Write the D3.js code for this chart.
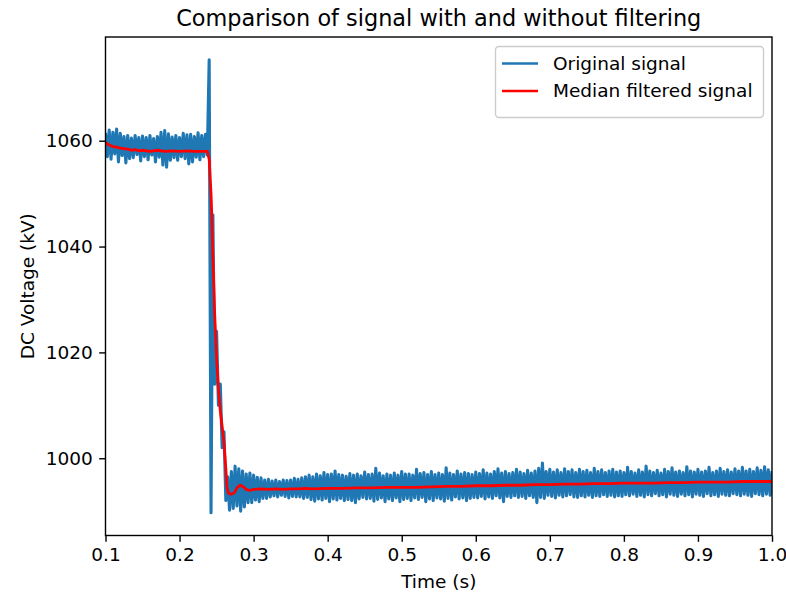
<!DOCTYPE html>
<html>
<head>
<meta charset="utf-8">
<script src="https://cdnjs.cloudflare.com/ajax/libs/d3/7.8.5/d3.min.js"></script>
<style>
    body { margin: 0; background: white; }
    text { font-family: "DejaVu Sans", sans-serif; }
</style>
</head>
<body>
<div class="chart"></div>
<script>
// original signal, sampled every 2.5 ms from t = 0.1 s
var sampleStart = 0.1;
var sampleStep = 0.0025;
var originalSignal = [
    1061.5, 1057.0, 1062.0, 1056.5, 1061.6, 1057.5, 1062.2, 1056.0, 1061.4, 1057.2,
    1060.8, 1055.8, 1061.0, 1056.6, 1060.5, 1056.8, 1061.0, 1057.4, 1060.6, 1056.2,
    1060.9, 1057.0, 1060.6, 1056.4, 1061.0, 1057.3, 1060.4, 1056.0, 1060.8, 1056.9,
    1061.6, 1055.4, 1061.9, 1055.0, 1061.3, 1056.3, 1060.7, 1056.8, 1061.0, 1056.3,
    1060.6, 1057.0, 1061.4, 1056.6, 1061.1, 1055.6, 1061.2, 1056.0, 1060.8, 1056.9,
    1061.5, 1056.4, 1061.0, 1057.0, 1061.2, 1057.3, 1075.3, 989.7, 1046.0, 1014.0,
    1024.0, 1010.0, 1014.0, 1002.0, 1005.0, 992.0, 996.5, 990.2, 997.5, 990.5,
    998.5, 991.0, 998.0, 990.0, 997.6, 990.8, 997.0, 991.6, 997.2, 991.6,
    996.8, 992.1, 996.4, 991.8, 996.3, 992.4, 995.9, 992.4, 996.0, 992.7,
    995.7, 992.9, 995.9, 992.7, 995.6, 993.0, 995.9, 992.8, 995.8, 992.5,
    995.9, 992.8, 996.2, 992.7, 996.0, 992.7, 996.3, 992.4, 996.5, 992.6,
    996.8, 992.2, 996.5, 991.9, 997.0, 992.3, 996.7, 992.1, 997.3, 992.4,
    996.9, 991.8, 997.0, 992.3, 997.6, 992.1, 996.9, 992.4, 996.8, 992.0,
    996.6, 992.2, 997.1, 992.0, 996.8, 991.6, 997.0, 992.3, 996.7, 992.6,
    997.4, 992.3, 996.9, 992.4, 997.0, 991.9, 998.1, 992.2, 997.2, 992.5,
    996.7, 991.8, 997.0, 992.3, 996.8, 992.0, 997.2, 992.5, 996.8, 991.8,
    997.5, 992.2, 997.0, 992.4, 997.0, 992.0, 996.8, 992.5, 997.9, 992.2,
    997.1, 992.6, 997.3, 991.8, 996.9, 992.3, 997.5, 992.0, 996.9, 992.5,
    997.2, 992.3, 996.9, 991.9, 998.2, 992.4, 997.2, 992.1, 996.9, 992.7,
    997.6, 992.3, 997.0, 992.5, 997.3, 992.0, 997.1, 992.4, 996.9, 992.6,
    997.4, 992.5, 997.1, 992.8, 997.8, 992.3, 997.2, 992.7, 997.0, 992.4,
    997.5, 992.9, 998.0, 992.5, 997.2, 991.8, 997.5, 992.8, 997.1, 992.6,
    997.3, 992.9, 997.9, 992.6, 997.4, 992.8, 997.1, 992.4, 997.7, 992.9,
    997.2, 992.6, 997.6, 991.6, 998.1, 992.6, 999.1, 992.4, 997.5, 993.0,
    997.9, 992.8, 997.4, 992.5, 997.8, 993.0, 997.3, 992.7, 998.0, 992.9,
    997.5, 993.1, 997.8, 992.7, 997.3, 992.6, 997.9, 992.9, 997.5, 992.7,
    997.7, 993.0, 997.3, 992.6, 998.1, 992.9, 997.5, 992.8, 997.8, 993.1,
    997.3, 992.8, 997.6, 993.0, 997.9, 992.7, 997.4, 992.9, 997.6, 992.8,
    997.3, 993.1, 998.3, 992.9, 997.5, 993.2, 997.2, 992.8, 997.8, 993.0,
    997.4, 992.7, 998.5, 993.1, 997.6, 992.9, 997.3, 993.3, 997.7, 992.9,
    997.2, 993.1, 997.9, 992.7, 997.5, 993.2, 998.2, 993.0, 997.4, 992.8,
    997.6, 993.2, 997.3, 992.9, 998.4, 993.1, 997.6, 992.7, 997.4, 993.2,
    997.9, 993.0, 997.4, 992.8, 997.6, 993.3, 998.3, 992.9, 997.3, 993.1,
    997.6, 992.8, 998.1, 993.2, 997.5, 993.0, 997.8, 992.9, 997.4, 993.3,
    998.0, 993.1, 997.6, 992.9, 998.3, 993.2, 997.6, 993.0, 997.9, 992.8,
    997.5, 993.3, 998.2, 993.1, 997.7, 992.9, 998.4, 993.2, 997.8, 993.0,
    997.6
];

// median filtered signal
var filteredTime = [
    0.100, 0.105, 0.110, 0.115, 0.120, 0.125, 0.130, 0.135, 0.140, 0.145,
    0.150, 0.160, 0.170, 0.180, 0.190, 0.200, 0.210, 0.220, 0.230, 0.2375,
    0.240, 0.2425, 0.2435, 0.245, 0.2475, 0.250, 0.2525, 0.255, 0.2575, 0.260,
    0.2625, 0.264, 0.266, 0.270, 0.274, 0.278, 0.282, 0.286, 0.290, 0.295,
    0.300, 0.310, 0.320, 0.330, 0.340, 0.350, 0.360, 0.370, 0.380, 0.400,
    0.420, 0.440, 0.460, 0.480, 0.500, 0.520, 0.540, 0.560, 0.580, 0.600,
    0.620, 0.640, 0.660, 0.680, 0.700, 0.720, 0.740, 0.760, 0.780, 0.800,
    0.820, 0.840, 0.860, 0.880, 0.900, 0.920, 0.940, 0.960, 0.980, 1.000
];
var filteredSignal = [
    1059.6, 1059.2, 1058.9, 1058.8, 1058.6, 1058.5, 1058.4, 1058.2, 1058.3, 1058.1,
    1058.2, 1058.0, 1058.2, 1058.0, 1058.1, 1058.0, 1058.1, 1058.0, 1058.0, 1058.0,
    1056.5, 1050.0, 1046.0, 1038.0, 1027.0, 1019.0, 1013.0, 1009.0, 1006.0, 1003.0,
    998.0, 994.5, 993.4, 993.2, 993.5, 994.5, 994.9, 994.6, 994.1, 993.9,
    994.1, 994.2, 994.1, 994.2, 994.1, 994.2, 994.2, 994.3, 994.2, 994.3,
    994.3, 994.4, 994.4, 994.5, 994.5, 994.5, 994.6, 994.7, 994.7, 994.8,
    994.8, 994.9, 994.9, 995.0, 995.0, 995.1, 995.1, 995.2, 995.2, 995.3,
    995.3, 995.3, 995.4, 995.4, 995.5, 995.5, 995.5, 995.6, 995.6, 995.6
];

var xTicks = [0.1, 0.2, 0.3, 0.4, 0.5, 0.6, 0.7, 0.8, 0.9, 1.0];
var yTicks = [1000, 1020, 1040, 1060];
var legendLabels = ["Original signal", "Median filtered signal"];
var legendColors = ["#1f77b4", "red"];

function drawChart(){
    var w = 786;
    var h = 596;
    var plotLeft = 105.5, plotRight = 772, plotTop = 37, plotBottom = 535.5;

    var svg = d3.select(".chart")
                .append("svg")
                .attr("width", w)
                .attr("height", h);

    var xScale = d3.scaleLinear()
                   .domain([0.1, 1.0])
                   .range([plotLeft, plotRight]);

    var yScale = d3.scaleLinear()
                   .domain([985.4, 1079.6])
                   .range([plotBottom, plotTop]);

    var original = originalSignal.map(function(d, i){
        return {t: sampleStart + i * sampleStep, v: d};
    });
    var filtered = filteredSignal.map(function(d, i){
        return {t: filteredTime[i], v: d};
    });

    var line = d3.line()
                 .x(function(d){ return xScale(d.t); })
                 .y(function(d){ return yScale(d.v); });

    svg.append("clipPath")
        .attr("id", "plotArea")
        .append("rect")
        .attr("x", plotLeft)
        .attr("y", plotTop)
        .attr("width", plotRight - plotLeft)
        .attr("height", plotBottom - plotTop);

    var plot = svg.append("g").attr("clip-path", "url(#plotArea)");

    plot.append("path")
        .datum(original)
        .attr("d", line)
        .attr("fill", "none")
        .attr("stroke", legendColors[0])
        .attr("stroke-width", 3.1)
        .attr("stroke-linejoin", "round");

    plot.append("path")
        .datum(filtered)
        .attr("d", line)
        .attr("fill", "none")
        .attr("stroke", legendColors[1])
        .attr("stroke-width", 2.8)
        .attr("stroke-linejoin", "round");

    //Axes
    var xAxis = d3.axisBottom(xScale)
                  .tickValues(xTicks)
                  .tickFormat(d3.format(".1f"))
                  .tickSize(6.3)
                  .tickPadding(6.3);

    var yAxis = d3.axisLeft(yScale)
                  .tickValues(yTicks)
                  .tickFormat(d3.format("d"))
                  .tickSize(6.3)
                  .tickPadding(6.3);

    var gx = svg.append("g")
        .attr("transform", "translate(0," + plotBottom + ")")
        .call(xAxis);

    var gy = svg.append("g")
        .attr("transform", "translate(" + plotLeft + ",0)")
        .call(yAxis);

    [gx, gy].forEach(function(g){
        g.select(".domain").remove();
        g.selectAll("line").attr("stroke", "black").attr("stroke-width", 1.4);
        g.selectAll("text")
            .attr("fill", "black")
            .style("font-family", "DejaVu Sans")
            .style("font-size", "18.5px");
    });

    //Spines
    svg.append("rect")
        .attr("x", plotLeft)
        .attr("y", plotTop)
        .attr("width", plotRight - plotLeft)
        .attr("height", plotBottom - plotTop)
        .attr("fill", "none")
        .attr("stroke", "black")
        .attr("stroke-width", 1.4);

    //Title and labels
    svg.append("text")
        .attr("x", (plotLeft + plotRight) / 2)
        .attr("y", 26)
        .attr("text-anchor", "middle")
        .style("font-size", "22.4px")
        .text("Comparison of signal with and without filtering");

    svg.append("text")
        .attr("x", (plotLeft + plotRight) / 2)
        .attr("y", 588)
        .attr("text-anchor", "middle")
        .style("font-size", "18.5px")
        .text("Time (s)");

    svg.append("text")
        .attr("transform", "translate(34," + ((plotTop + plotBottom) / 2) + ") rotate(-90)")
        .attr("text-anchor", "middle")
        .style("font-size", "18.5px")
        .text("DC Voltage (kV)");

    //Legend
    var legend = svg.append("g");

    legend.append("rect")
        .attr("x", 495.5)
        .attr("y", 46.5)
        .attr("width", 268)
        .attr("height", 71)
        .attr("rx", 3.5)
        .attr("fill", "white")
        .attr("fill-opacity", 0.8)
        .attr("stroke", "#cccccc")
        .attr("stroke-width", 1.4);

    legend.selectAll("line.key")
        .data(legendLabels)
        .enter()
        .append("line")
        .attr("class", "key")
        .attr("x1", 502)
        .attr("x2", 538)
        .attr("y1", function(d, i){ return 63.5 + i * 27.5; })
        .attr("y2", function(d, i){ return 63.5 + i * 27.5; })
        .attr("stroke", function(d, i){ return legendColors[i]; })
        .attr("stroke-width", 2.6);

    legend.selectAll("text.key")
        .data(legendLabels)
        .enter()
        .append("text")
        .attr("class", "key")
        .attr("x", 553)
        .attr("y", function(d, i){ return 63.5 + i * 27.5; })
        .attr("dy", "0.35em")
        .style("font-size", "18.5px")
        .attr("fill", "black")
        .text(function(d){ return d; });
}

drawChart();
</script>
</body>
</html>
